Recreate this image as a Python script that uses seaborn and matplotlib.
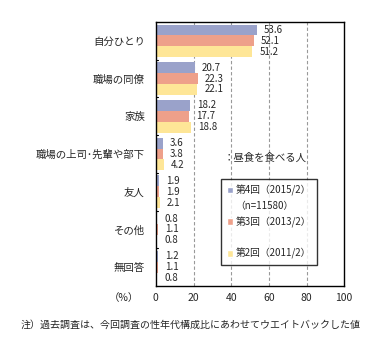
import matplotlib
matplotlib.use("Agg")
import matplotlib.pyplot as plt
import seaborn as sns
import pandas as pd
from matplotlib.patches import Patch

categories = ["自分ひとり", "職場の同僚", "家族", "職場の上司･先輩や部下", "友人", "その他", "無回答"]
series = ["第4回(2015/2)", "第3回(2013/2)", "第2回(2011/2)"]
v2015 = [53.6, 20.7, 18.2, 3.6, 1.9, 0.8, 1.2]
v2013 = [52.1, 22.3, 17.7, 3.8, 1.9, 1.1, 1.1]
v2011 = [51.2, 22.1, 18.8, 4.2, 2.1, 0.8, 0.8]
xticks = [0, 20, 40, 60, 80, 100]
colors = ["#9AA2CA", "#EEA08A", "#FEE697"]

rows = []
for s, vals in zip(series, [v2015, v2013, v2011]):
    for c, v in zip(categories, vals):
        rows.append({"cat": c, "series": s, "value": v})
df = pd.DataFrame(rows)

sns.set_theme(style="white")
plt.rcParams['font.family'] = ['Noto Sans CJK JP', 'DejaVu Sans']

fig = plt.figure(figsize=(3.82, 3.52), dpi=100)
ax = fig.add_axes([0.408, 0.1875, 0.493, 0.75])

sns.barplot(data=df, y="cat", x="value", hue="series", order=categories,
            hue_order=series, palette=colors, orient="h", width=0.86,
            saturation=1, ax=ax, legend=False, linewidth=0)

ax.set_xlim(0, 100)
ax.set_ylim(len(categories) - 0.5, -0.5)
ax.set_xticks(xticks)
ax.set_xticklabels([str(t) for t in xticks], fontsize=7.5)
ax.set_xlabel("")
ax.set_ylabel("")
ax.tick_params(axis="y", labelsize=7.5, length=0, pad=8)
ax.tick_params(axis="x", length=3, direction="in", pad=5)
for t in [20, 40, 60, 80]:
    ax.axvline(t, color="#999999", linestyle=(0, (3, 2)), linewidth=0.8, zorder=0)
for b in range(1, len(categories)):
    ax.plot([0, 1.2], [b - 0.5, b - 0.5], color="black", linewidth=0.8, clip_on=False)
for sp in ax.spines.values():
    sp.set_color("black")
    sp.set_linewidth(1.0)

for container in ax.containers:
    ax.bar_label(container, labels=[f"{v:.1f}" for v in container.datavalues],
                 padding=5, fontsize=7)

fig.text(0.325, 1 - 298 / 352, "（%）", fontsize=7.5, ha="center", va="center")

ax.text(0.58, 0.485, "：昼食を食べる人", transform=ax.transAxes, fontsize=7.5,
        ha="center", va="center")
handles = [Patch(facecolor=colors[0]), Patch(facecolor="none", edgecolor="none"),
           Patch(facecolor=colors[1]), Patch(facecolor="none", edgecolor="none"),
           Patch(facecolor=colors[2])]
labels = ["第4回（2015/2）", "（n=11580）", "第3回（2013/2）", " ", "第2回（2011/2）"]
leg = ax.legend(handles, labels, loc="upper left", bbox_to_anchor=(0.32, 0.425),
                frameon=True, fontsize=7, handlelength=0.6, handleheight=0.6,
                handletextpad=0.3, borderpad=0.6, labelspacing=0.55, fancybox=False)
leg.get_frame().set_edgecolor("black")
leg.get_frame().set_linewidth(1.0)

fig.text(0.055, 1 - 325 / 352, "注）過去調査は、今回調査の性年代構成比にあわせてウエイトバックした値",
         fontsize=7.2, ha="left", va="center")

fig.savefig("out.png", dpi=100)
